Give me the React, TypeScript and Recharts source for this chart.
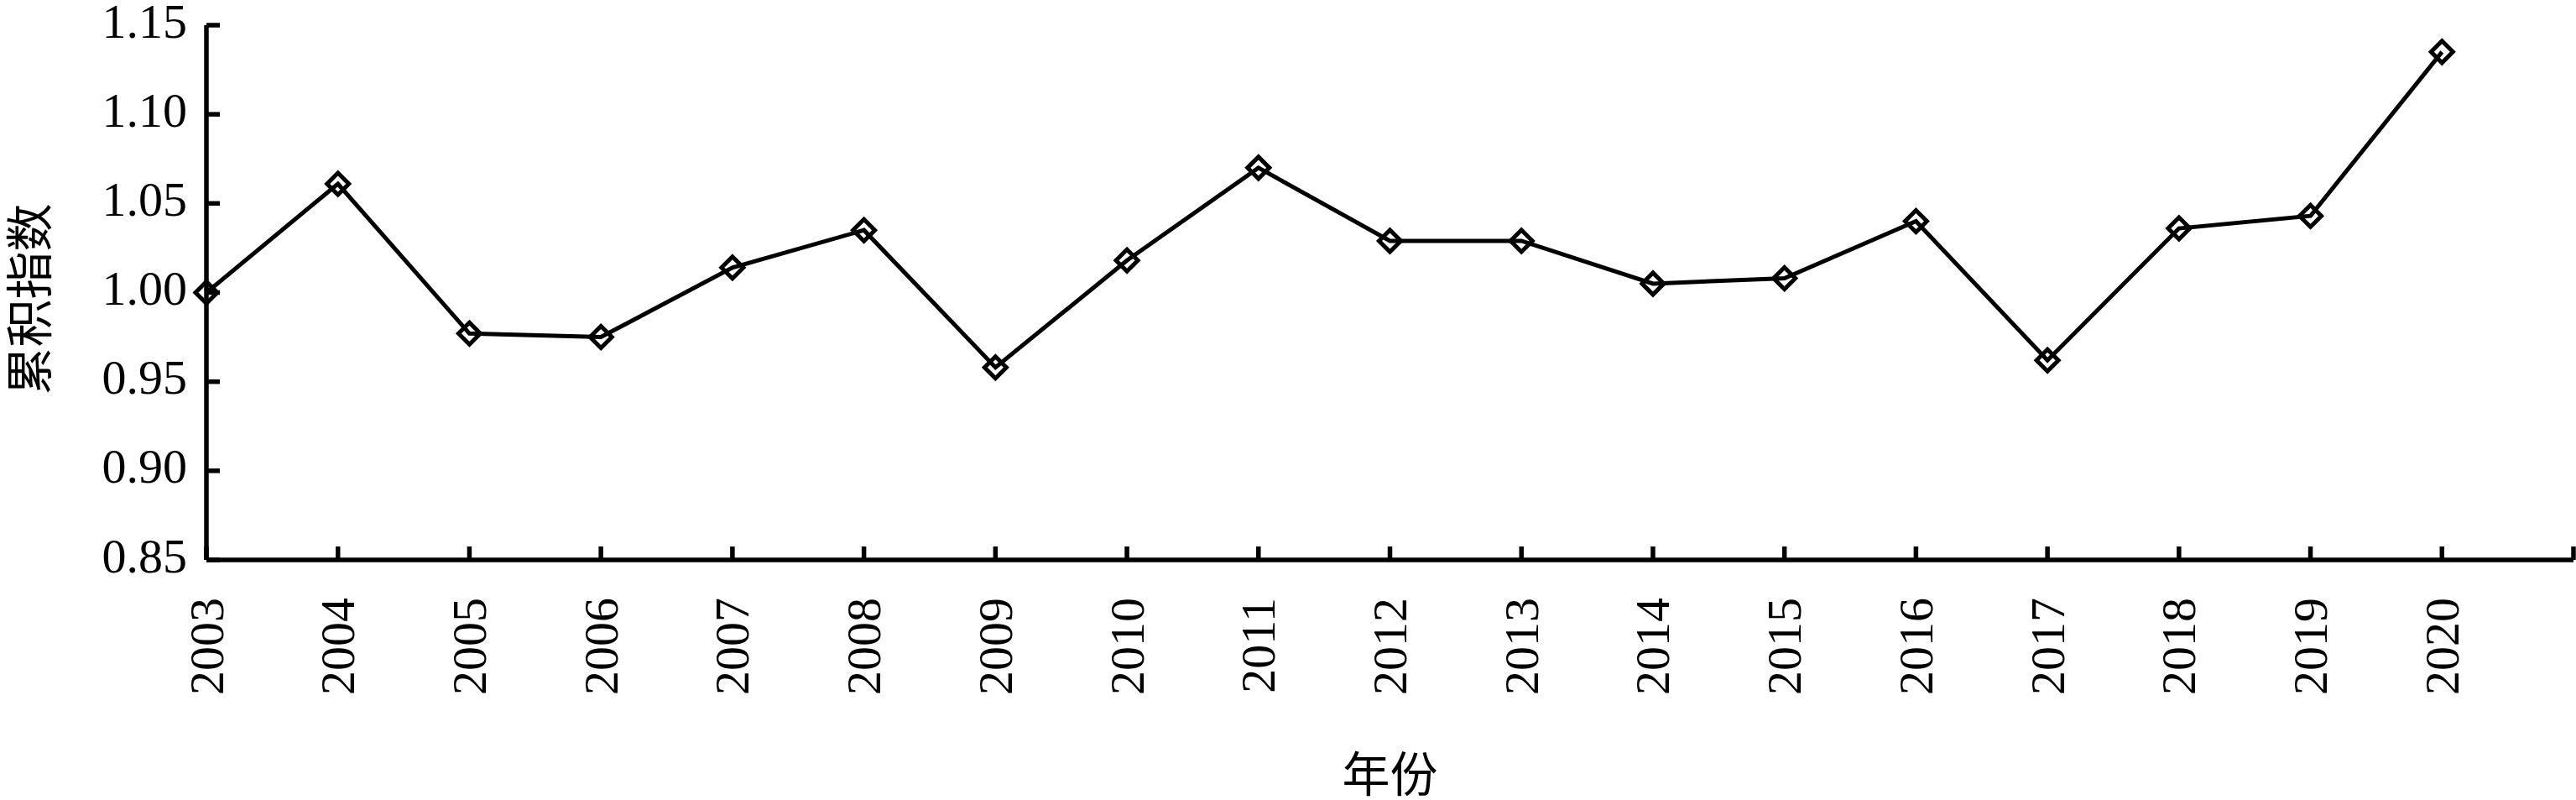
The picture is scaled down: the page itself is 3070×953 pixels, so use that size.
import React from 'react'
import { LineChart, Line, XAxis, YAxis } from 'recharts'

const years = [2003, 2004, 2005, 2006, 2007, 2008, 2009, 2010, 2011, 2012, 2013, 2014, 2015, 2016, 2017, 2018, 2019, 2020]
const indexValues = [1.0, 1.061, 0.977, 0.975, 1.014, 1.035, 0.958, 1.018, 1.07, 1.029, 1.029, 1.005, 1.008, 1.04, 0.962, 1.036, 1.043, 1.135]
const xTicks = [...years, 2021]
const yTicks = [0.85, 0.9, 0.95, 1.0, 1.05, 1.1, 1.15]

const data = years.map((year, i) => ({ year, value: indexValues[i] }))

const SERIF = "'Liberation Serif', 'Times New Roman', 'Noto Sans CJK SC', serif"
const CJK = "'Noto Sans CJK SC', 'Liberation Serif', serif"

const YTick = (props: any) => {
  const { x, y, payload } = props
  const axisX = x + 23
  return (
    <g>
      <line x1={axisX} x2={axisX + 16} y1={y} y2={y} stroke="#000" strokeWidth={5.5} />
      <text x={x} y={y - 5} textAnchor="end" dominantBaseline="central" fontSize={58} fontFamily={SERIF} fill="#000">
        {Number(payload.value).toFixed(2)}
      </text>
    </g>
  )
}

const XTick = (props: any) => {
  const { x, y, payload } = props
  const axisY = y - 45
  const label = payload.value <= 2020 ? String(payload.value) : ''
  return (
    <g>
      <line x1={x} x2={x} y1={axisY} y2={axisY - 16} stroke="#000" strokeWidth={5.5} />
      {label && (
        <text
          x={x}
          y={y}
          transform={`rotate(-90, ${x}, ${y})`}
          textAnchor="end"
          dominantBaseline="central"
          fontSize={58}
          fontFamily={SERIF}
          fill="#000"
        >
          {label}
        </text>
      )}
    </g>
  )
}

const Diamond = (props: any) => {
  const { cx, cy } = props
  if (cx == null || cy == null) return null
  const r = 13
  return (
    <path
      d={`M${cx},${cy - r} L${cx + r},${cy} L${cx},${cy + r} L${cx - r},${cy} Z`}
      fill="none"
      stroke="#000"
      strokeWidth={5}
    />
  )
}

const YLabel = (props: any) => {
  const vb = props.viewBox || {}
  const cx = 31
  const cy = (vb.y ?? 30) + (vb.height ?? 637) / 2 + 8
  return (
    <text
      x={cx}
      y={cy}
      transform={`rotate(-90, ${cx}, ${cy})`}
      textAnchor="middle"
      dominantBaseline="central"
      fontSize={57}
      fontFamily={CJK}
      fill="#000"
    >
      累积指数
    </text>
  )
}

const XLabel = (props: any) => {
  const vb = props.viewBox || {}
  const cx = (vb.x ?? 246) + (vb.width ?? 2822) / 2
  return (
    <text x={cx} y={918} textAnchor="middle" dominantBaseline="central" fontSize={57} fontFamily={CJK} fill="#000">
      年份
    </text>
  )
}

export default function App() {
  return (
    <div style={{ position: 'absolute', left: 0, top: 0, background: '#fff' }}>
      <LineChart width={3070} height={953} data={data} margin={{ top: 30, right: 3, bottom: 0, left: 0 }}>
        <XAxis
          dataKey="year"
          type="number"
          domain={[2003, 2021]}
          ticks={xTicks}
          interval={0}
          height={286}
          tickSize={0}
          tickMargin={45}
          tickLine={false}
          axisLine={{ stroke: '#000', strokeWidth: 5.5 }}
          tick={<XTick />}
          label={<XLabel />}
        />
        <YAxis
          type="number"
          domain={[0.85, 1.15]}
          ticks={yTicks}
          interval={0}
          width={246}
          tickSize={0}
          tickMargin={23}
          tickLine={false}
          axisLine={{ stroke: '#000', strokeWidth: 5.5 }}
          tick={<YTick />}
          label={<YLabel />}
        />
        <Line
          type="linear"
          dataKey="value"
          stroke="#000"
          strokeWidth={5}
          dot={<Diamond />}
          activeDot={false}
          isAnimationActive={false}
        />
      </LineChart>
    </div>
  )
}
